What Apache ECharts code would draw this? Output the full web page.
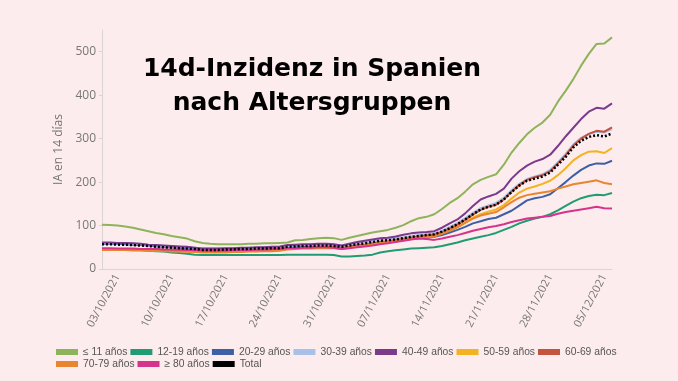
<!DOCTYPE html>
<html><head><meta charset="utf-8">
<script src="https://cdn.jsdelivr.net/npm/echarts@6/dist/echarts.min.js"></script>
<style>html,body{margin:0;padding:0;background:#fdeced}#c{width:678px;height:381px}</style>
</head><body><div id="c"></div>
<script>
const dates = [
'01/10/2021','02/10/2021','03/10/2021','04/10/2021','05/10/2021','06/10/2021','07/10/2021','08/10/2021','09/10/2021','10/10/2021',
'11/10/2021','12/10/2021','13/10/2021','14/10/2021','15/10/2021','16/10/2021','17/10/2021','18/10/2021','19/10/2021','20/10/2021',
'21/10/2021','22/10/2021','23/10/2021','24/10/2021','25/10/2021','26/10/2021','27/10/2021','28/10/2021','29/10/2021','30/10/2021',
'31/10/2021','01/11/2021','02/11/2021','03/11/2021','04/11/2021','05/11/2021','06/11/2021','07/11/2021','08/11/2021','09/11/2021',
'10/11/2021','11/11/2021','12/11/2021','13/11/2021','14/11/2021','15/11/2021','16/11/2021','17/11/2021','18/11/2021','19/11/2021',
'20/11/2021','21/11/2021','22/11/2021','23/11/2021','24/11/2021','25/11/2021','26/11/2021','27/11/2021','28/11/2021','29/11/2021',
'30/11/2021','01/12/2021','02/12/2021','03/12/2021','04/12/2021','05/12/2021','06/12/2021'];
const shownLabels = ['03/10/2021','10/10/2021','17/10/2021','24/10/2021','31/10/2021','07/11/2021','14/11/2021','21/11/2021','28/11/2021','05/12/2021'];
const yTicks = [0,100,200,300,400,500];

const age_lt11 = [102,101,100,98,95,91,87,83,80,76,73,70, 64,60,58,57,57,57,57,58,58,59,59,60, 61,66,67,69,71,72,71,67,72,76,80,84,
  87,90,95,101,110,117,120,126,138,152,163,178, 195,205,212,218,240,268,290,310,325,337,355,385, 410,437,468,495,518,519,533];
const age_12_19 = [45,45,44,44,43,43,42,41,40,38,37,35, 33,32,32,32,32,32,32,32,32,32,32,32, 33,33,33,33,33,33,32,29,29,30,31,33,
  38,41,43,45,47,48,49,50,53,57,61,66, 70,74,78,83,90,97,105,111,116,120,126,135, 145,155,163,168,171,170,175];
const age_20_29 = [58,58,58,57,56,55,54,52,51,50,49,48, 47,45,45,45,45,46,46,46,47,47,48,48, 50,51,52,52,53,53,52,49,51,54,56,59,
  62,63,65,67,69,71,72,74,78,84,90,97, 105,110,115,118,126,134,146,158,163,166,172,186, 200,215,228,238,243,242,249];
const age_30_39 = [60,60,60,59,58,57,55,54,53,52,51,50, 49,47,47,47,47,48,48,49,49,50,50,51, 53,54,55,56,56,57,56,53,56,59,61,64,
  67,69,71,73,76,78,80,82,88,97,106,117, 129,140,146,152,164,181,196,207,213,218,228,246, 265,287,302,311,316,314,322];
const age_40_49 = [61,61,60,60,59,58,56,55,54,53,52,51, 49,47,47,47,48,48,49,49,50,50,51,52, 55,56,57,57,58,58,57,54,58,62,65,68,
  71,72,75,79,82,84,85,87,95,105,114,128, 145,160,167,173,185,208,225,238,247,253,263,283, 305,325,345,362,371,369,381];
const age_50_59 = [45,45,45,44,44,43,43,42,42,41,41,40, 40,39,39,39,39,40,40,41,41,42,42,43, 46,47,48,48,49,49,49,47,50,53,55,58,
  61,63,65,67,70,73,74,76,82,89,97,107, 118,126,132,137,147,162,176,185,190,196,203,216, 232,250,262,270,271,267,278];
const age_60_69 = [46,46,46,45,45,44,44,43,43,42,42,41, 41,40,40,40,40,41,41,42,42,43,43,44, 47,48,49,49,50,50,50,48,51,54,56,59,
  62,64,67,69,72,75,77,79,85,93,102,113, 125,136,143,148,160,178,193,205,211,216,225,243, 262,284,300,311,318,316,326];
const age_70_79 = [44,44,44,44,43,43,42,42,41,41,40,40, 39,38,38,38,38,39,39,40,40,41,41,42, 45,46,47,47,48,48,48,46,49,52,54,57,
  60,62,64,66,69,72,73,75,81,88,96,106, 116,123,127,131,142,154,164,170,173,176,179,185, 190,195,198,201,204,198,195];
const age_ge80 = [48,48,47,47,47,46,46,46,45,45,45,44, 44,43,43,43,43,44,44,44,45,45,46,46, 48,48,49,49,50,50,49,46,48,50,52,54,
  57,59,62,65,68,70,69,67,70,74,78,83, 88,92,96,99,103,108,112,116,118,120,122,127, 131,134,137,140,143,140,139];
const total = [57,57,56,56,55,54,53,51,50,49,48,47, 46,44,44,44,45,45,46,46,47,47,48,48, 51,52,53,53,54,54,53,51,54,57,59,62,
  65,66,68,71,74,76,78,80,86,94,103,114, 126,137,143,148,160,177,192,203,208,213,222,240, 258,280,295,304,308,305,312];

const names = ['≤ 11 años','12-19 años','20-29 años','30-39 años','40-49 años','50-59 años','60-69 años','70-79 años','≥ 80 años','Total'];
const values = [age_lt11,age_12_19,age_20_29,age_30_39,age_40_49,age_50_59,age_60_69,age_70_79,age_ge80,total];
const colors = ['#8db45a','#1f9c74','#3d5fa6','#a9c0e8','#7a3b8c','#f3b220','#c4533d','#e98530','#d6338a','#000000'];

const chart = echarts.init(document.getElementById('c'));
const legendText = {fontFamily:'Liberation Sans', fontSize:10.3, color:'#555'};
chart.setOption({
  backgroundColor:'#fdeced',
  animation:false,
  color: colors,
  title:{text:'14d-Inzidenz in Spanien\nnach Altersgruppen', left:307, top:47, textAlign:'center',
    textStyle:{fontFamily:'DejaVu Sans', fontWeight:'bold', fontSize:25, lineHeight:34, color:'#000'}},
  legend:[
    {data:names.slice(0,7), left:56, top:347, width:640, itemWidth:22, itemHeight:6, itemGap:3, icon:'rect', padding:0, textStyle:legendText},
    {data:names.slice(7), left:56, top:359, width:640, itemWidth:22, itemHeight:6, itemGap:3, icon:'rect', padding:0, textStyle:legendText}
  ],
  grid:{left:102, right:66, top:30, bottom:112},
  xAxis:{type:'category', data:dates, boundaryGap:false,
    axisLine:{lineStyle:{color:'#dcd4d4'}}, axisTick:{show:false},
    axisLabel:{rotate:62, fontSize:11, color:'#777', fontFamily:'Open Sans', margin:6,
      interval:(i,v)=>shownLabels.indexOf(v)>=0}},
  yAxis:{type:'value', min:0, max:550, interval:100,
    name:'IA en 14 días', nameLocation:'middle', nameGap:22,
    nameTextStyle:{fontSize:12, color:'#777', fontFamily:'Open Sans'},
    axisLine:{show:true, lineStyle:{color:'#dcd4d4'}}, axisTick:{show:true, length:3, lineStyle:{color:'#dcd4d4'}},
    splitLine:{show:false},
    axisLabel:{fontSize:12, color:'#777', fontFamily:'Open Sans', margin:6, showMaxLabel:false,
      formatter:v=>yTicks.indexOf(v)>=0?String(v):''}},
  series: names.map((n,i)=>({name:n, type:'line', data:values[i], showSymbol:false, symbol:'none',
    lineStyle: i===9 ? {width:2.5, type:[2,2], color:'#000'} : {width:2, color:colors[i]},
    itemStyle:{color:colors[i]}, z: i===9 ? 5 : 2}))
});
</script></body></html>
